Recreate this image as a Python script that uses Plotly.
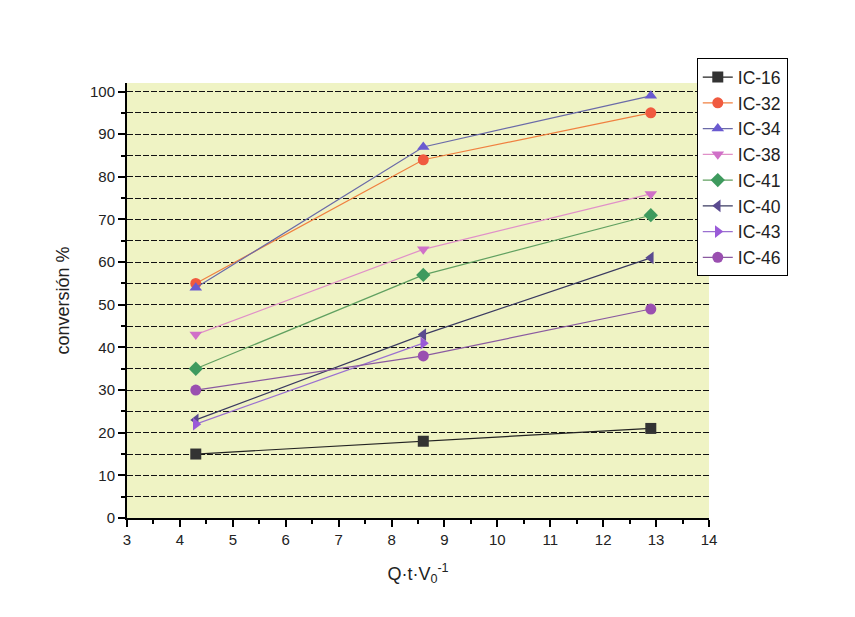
import plotly.graph_objects as go

x_vals = [4.3, 8.6, 12.9]
series_names = ["IC-16", "IC-32", "IC-34", "IC-38", "IC-41", "IC-40", "IC-43", "IC-46"]
ic16 = [15, 18, 21]
ic32 = [55, 84, 95]
ic34 = [54, 87, 99]
ic38 = [43, 63, 76]
ic41 = [35, 57, 71]
ic40 = [23, 43, 61]
ic43 = [22, 41, None]
ic46 = [30, 38, 49]
values = [ic16, ic32, ic34, ic38, ic41, ic40, ic43, ic46]

line_colors = ["#222222", "#f08040", "#6a6aa8", "#e090c8", "#60a060", "#3a3a60", "#9a70d0", "#8a5aa0"]
marker_colors = ["#333333", "#f05a40", "#6a5ad0", "#d070c8", "#3e9a5e", "#5a4a90", "#9a5ad8", "#9a4fb0"]
symbols = ["square", "circle", "triangle-up", "triangle-down", "diamond", "triangle-left", "triangle-right", "circle"]

fig = go.Figure()
for name, v, lc, mc, s in zip(series_names, values, line_colors, marker_colors, symbols):
    fig.add_trace(go.Scatter(
        x=x_vals, y=v, name=name, mode="lines+markers",
        line=dict(color=lc, width=1.2),
        marker=dict(symbol=s, size=11, color=mc),
        connectgaps=False,
    ))

fig.update_layout(
    width=855, height=617,
    margin=dict(l=119, r=154, t=75, b=107),
    paper_bgcolor="white",
    plot_bgcolor="#eff3c4",
    font=dict(family="Liberation Sans, Arial, sans-serif", size=15, color="#222"),
    showlegend=True,
    legend=dict(
        x=0.979, y=1.057, xanchor="left", yanchor="top",
        bordercolor="black", borderwidth=1, bgcolor="white",
        font=dict(size=17.5, color="#222"),
        tracegroupgap=0,
    ),
)
fig.update_xaxes(
    range=[3, 14], dtick=1, tick0=3,
    showline=True, linecolor="black", linewidth=2,
    ticks="outside", ticklen=7, tickwidth=1.5, tickcolor="black",
    minor=dict(dtick=0.5, ticks="outside", ticklen=4, tickcolor="black"),
    showgrid=False, zeroline=False,
    title=dict(text="Q·t·V<sub>0</sub><sup>-1</sup>", font=dict(size=18), standoff=20),
)
fig.update_yaxes(
    range=[0, 102], dtick=10, tick0=0,
    showline=True, linecolor="black", linewidth=2,
    ticks="outside", ticklen=7, tickwidth=1.5, tickcolor="black",
    showgrid=True, gridcolor="#111", griddash="6px,2px", gridwidth=1.2,
    minor=dict(dtick=5, ticks="outside", ticklen=4, tickcolor="black",
               showgrid=True, gridcolor="#111", griddash="6px,2px", gridwidth=1.2),
    zeroline=False,
    title=dict(text="conversión %", font=dict(size=18), standoff=16),
)

fig.write_html("out.html")
